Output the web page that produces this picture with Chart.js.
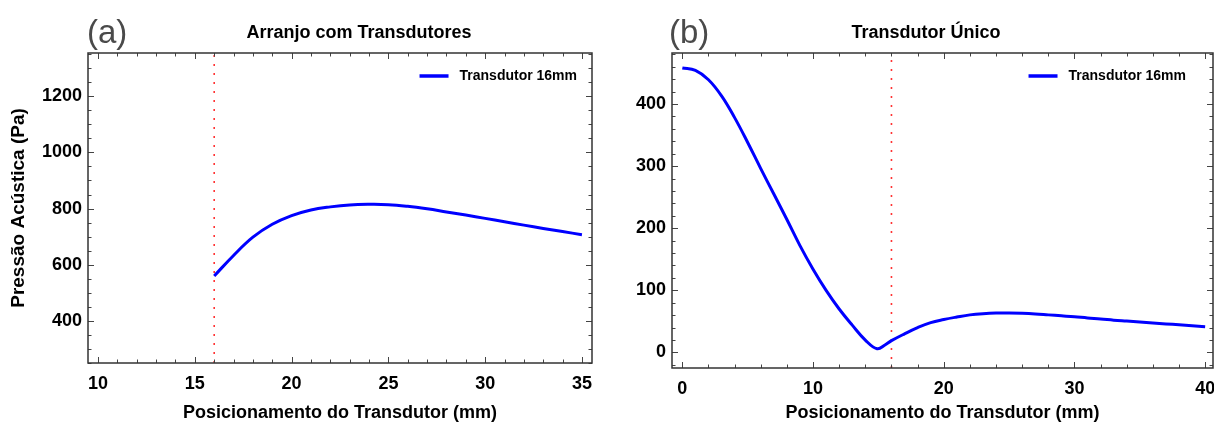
<!DOCTYPE html>
<html>
<head>
<meta charset="utf-8">
<script src="https://cdn.jsdelivr.net/npm/chart.js@4.4.1/dist/chart.umd.min.js"></script>
<style>
    body { margin: 0; width: 1214px; height: 426px; overflow: hidden; background: #fff; position: relative; font-family: "Liberation Sans", Arial, sans-serif; }
    .panel { position: absolute; top: 0; height: 426px; }
    #panelA { left: 0; width: 607px; }
    #panelB { left: 607px; width: 620px; }
    .tag { position: absolute; top: 15px; font-size: 33px; color: #4a4a4a; line-height: 1; }
    .title { position: absolute; top: 22px; font-size: 18px; font-weight: bold; transform: translateX(-50%); white-space: nowrap; }
</style>
</head>
<body>
<div class="panel" id="panelA"><canvas id="chartA"></canvas></div>
<div class="panel" id="panelB"><canvas id="chartB"></canvas></div>
<div class="tag" style="left: 87px;">(a)</div>
<div class="title" style="left: 359px;">Arranjo com Transdutores</div>
<div class="tag" style="left: 669px;">(b)</div>
<div class="title" style="left: 926px;">Transdutor Único</div>

<script>
const FONT = '"Liberation Sans", Arial, sans-serif';
const seriesLabel = "Transdutor 16mm";
const markerX = 16;

// (a) Arranjo com Transdutores
const arrayX = [16, 17, 18, 19, 20, 21, 22, 23, 24, 25, 26, 27, 28, 29, 30, 31, 32, 33, 34, 35];
const arrayP = [560, 633, 698, 744, 775, 795, 806, 813, 815, 814, 808, 799, 788, 777, 765, 753, 741, 729, 718, 707];
const arrayXTicks = [10, 15, 20, 25, 30, 35];
const arrayYTicks = [400, 600, 800, 1000, 1200];

// (b) Transdutor Único
const singleX = [0, 1, 2, 3, 4, 5, 6, 7, 8, 9, 10, 11, 12, 13, 14, 14.9, 15.5, 16, 17, 18, 19, 20,
    21, 22, 23, 24, 25, 26, 27, 28, 29, 30, 31, 32, 33, 34, 35, 36, 37, 38, 39, 40];
const singleP = [458, 454, 439, 413, 378, 338, 296, 255, 214, 172, 134, 100, 70, 44, 20, 6, 12, 19, 30, 40, 48, 53,
    57, 60.5, 62.5, 63.5, 63.5, 63, 62, 60.5, 59, 57.5, 55.5, 54, 52, 50.5, 49, 47.5, 46, 44.5, 43, 41.5];
const singleXTicks = [0, 10, 20, 30, 40];
const singleYTicks = [0, 100, 200, 300, 400];

// frame with inward major/minor ticks on all four sides, plus the legend inside the plot
const framePlugin = {
    id: "frame",
    afterDatasetsDraw(chart, args, opts) {
        const { ctx, chartArea: a, scales: { x, y } } = chart;
        ctx.save();
        ctx.strokeStyle = "#444";
        ctx.lineWidth = 1;
        const line = (x1, y1, x2, y2) => { ctx.beginPath(); ctx.moveTo(x1, y1); ctx.lineTo(x2, y2); ctx.stroke(); };
        const isMajor = (scale, v) => scale.ticks.some(t => Math.abs(t.value - v) < 1e-6);

        for (let i = Math.ceil(x.min / opts.minorX); i * opts.minorX <= x.max; i++) {
            const v = i * opts.minorX;
            const len = isMajor(x, v) ? 6 : 3.5;
            const px = Math.round(x.getPixelForValue(v)) + 0.5;
            line(px, a.bottom, px, a.bottom - len);
            line(px, a.top, px, a.top + len);
        }
        for (let i = Math.ceil(y.min / opts.minorY); i * opts.minorY <= y.max; i++) {
            const v = i * opts.minorY;
            const len = isMajor(y, v) ? 6 : 3.5;
            const py = Math.round(y.getPixelForValue(v)) + 0.5;
            line(a.left, py, a.left + len, py);
            line(a.right, py, a.right - len, py);
        }
        ctx.strokeStyle = "#333";
        ctx.lineWidth = 1.5;
        ctx.strokeRect(a.left, a.top, a.right - a.left, a.bottom - a.top);

        // legend
        const ds = chart.data.datasets[0];
        ctx.font = "bold 14px " + FONT;
        ctx.textBaseline = "middle";
        ctx.textAlign = "right";
        const tx = a.right - opts.legendRight;
        const ty = a.top + 23;
        const tw = ctx.measureText(ds.label).width;
        ctx.fillStyle = "#000";
        ctx.fillText(ds.label, tx, ty);
        ctx.strokeStyle = ds.borderColor;
        ctx.lineWidth = 3.5;
        line(tx - tw - 40, ty, tx - tw - 11, ty);
        ctx.restore();
    }
};

function makeChart(id, xs, ys, xTicks, yTicks, xRange, yRange, frameOpts, box, yTitle) {
    return new Chart(document.getElementById(id), {
        type: "line",
        data: {
            datasets: [{
                label: seriesLabel,
                data: xs.map((v, i) => ({ x: v, y: ys[i] })),
                borderColor: "#0000ff",
                borderWidth: 3,
                pointRadius: 0,
                tension: 0.4,
                fill: false
            }, {
                label: "marker",
                data: [{ x: markerX, y: yRange[0] }, { x: markerX, y: yRange[1] }],
                borderColor: "#ff3333",
                borderWidth: 1.6,
                borderDash: [2, 7],
                pointRadius: 0,
                fill: false
            }]
        },
        options: {
            responsive: true,
            maintainAspectRatio: false,
            animation: false,
            layout: { padding: { left: 0, right: box.right, top: box.top, bottom: 0 } },
            plugins: {
                tooltip: { enabled: false },
                legend: { display: false },
                frame: frameOpts
            },
            scales: {
                x: {
                    type: "linear",
                    min: xRange[0],
                    max: xRange[1],
                    afterBuildTicks: s => { s.ticks = xTicks.map(v => ({ value: v })); },
                    afterFit: s => { s.height = box.xHeight; },
                    grid: { display: false, drawTicks: false },
                    border: { display: false },
                    ticks: {
                        color: "#000", padding: 10, maxRotation: 0, autoSkip: false,
                        callback: v => String(v),
                        font: { family: FONT, size: 18, weight: "bold" }
                    },
                    title: {
                        display: true,
                        text: "Posicionamento do Transdutor (mm)",
                        color: "#000",
                        padding: { top: 0, bottom: 2 },
                        font: { family: FONT, size: 18, weight: "bold" }
                    }
                },
                y: {
                    type: "linear",
                    min: yRange[0],
                    max: yRange[1],
                    afterBuildTicks: s => { s.ticks = yTicks.map(v => ({ value: v })); },
                    afterFit: s => { s.width = box.yWidth; },
                    grid: { display: false, drawTicks: false },
                    border: { display: false },
                    ticks: {
                        color: "#000", padding: 6,
                        callback: v => String(v),
                        font: { family: FONT, size: 18, weight: "bold" }
                    },
                    title: {
                        display: !!yTitle,
                        text: yTitle || "",
                        color: "#000",
                        padding: { top: 7, bottom: 0 },
                        font: { family: FONT, size: 19, weight: "bold" }
                    }
                }
            }
        },
        plugins: [framePlugin]
    });
}

makeChart("chartA", arrayX, arrayP, arrayXTicks, arrayYTicks, [9.48, 35.52], [250, 1354],
    { minorX: 1, minorY: 50, legendRight: 15 }, { right: 15, top: 53, xHeight: 63, yWidth: 88 }, "Pressão Acústica (Pa)");

makeChart("chartB", singleX, singleP, singleXTicks, singleYTicks, [-0.79, 40.6], [-25, 482],
    { minorX: 2, minorY: 20, legendRight: 27 }, { right: 14, top: 53, xHeight: 58, yWidth: 65 }, null);
</script>
</body>
</html>
